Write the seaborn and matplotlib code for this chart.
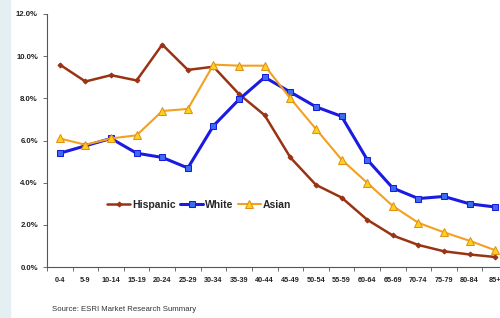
import matplotlib
matplotlib.use("Agg")
import pandas as pd
import seaborn as sns
from matplotlib import pyplot as plt
from matplotlib.ticker import FixedLocator, PercentFormatter

ages = ['0-4', '5-9', '10-14', '15-19', '20-24', '25-29', '30-34', '35-39', '40-44',
        '45-49', '50-54', '55-59', '60-64', '65-69', '70-74', '75-79', '80-84', '85+']
hispanic = [9.6, 8.8, 9.1, 8.85, 10.55, 9.35, 9.5, 8.2, 7.2, 5.2, 3.9, 3.3, 2.25,
            1.5, 1.05, 0.75, 0.6, 0.48]
white = [5.4, 5.75, 6.1, 5.4, 5.2, 4.7, 6.7, 7.95, 9.0, 8.3, 7.6, 7.15, 5.1,
         3.75, 3.25, 3.35, 3.0, 2.85]
asian = [6.1, 5.8, 6.1, 6.25, 7.4, 7.5, 9.6, 9.55, 9.55, 8.0, 6.55, 5.1, 4.0,
         2.9, 2.1, 1.65, 1.25, 0.8]

df = pd.DataFrame({'age': list(range(len(ages))) * 3,
                   'pct': hispanic + white + asian,
                   'group': ['Hispanic'] * 18 + ['White'] * 18 + ['Asian'] * 18})

sns.set_style('white')
plt.rcParams['font.family'] = ['Liberation Sans', 'DejaVu Sans']

fig = plt.figure(figsize=(5, 3.18), dpi=100)
fig.patch.set_facecolor('white')
# light blue strip on the left edge
fig.add_artist(plt.Rectangle((0, 0), 0.02, 1, transform=fig.transFigure,
                             color='#e3eff3', zorder=0))
ax = fig.add_axes([0.094, 0.160, 0.922, 0.796])

styles = {
    'Hispanic': dict(color='#993314', marker='D', markersize=2.5, lw=1.8,
                     markerfacecolor='#993314', markeredgecolor='#993314'),
    'White': dict(color='#1a1ae0', marker='s', markersize=5, lw=2.2,
                  markerfacecolor='#3a6cf0', markeredgecolor='#1a1ae0'),
    'Asian': dict(color='#f3a021', marker='^', markersize=6, lw=1.5,
                  markerfacecolor='#ffd21a', markeredgecolor='#e0901a'),
}
for g in ['Hispanic', 'White', 'Asian']:
    sub = df[df['group'] == g]
    sns.lineplot(data=sub, x='age', y='pct', ax=ax, label=g, sort=False, **styles[g])

ax.set_xlim(-0.5, 17.5)
ax.set_ylim(0, 12)
ax.set_yticks([0, 2, 4, 6, 8, 10, 12])
ax.yaxis.set_major_formatter(PercentFormatter(decimals=1))
ax.set_xticks(range(len(ages)))
ax.set_xticklabels(ages)
ax.xaxis.set_minor_locator(FixedLocator([i - 0.5 for i in range(len(ages) + 1)]))
ax.tick_params(axis='x', which='major', length=0, pad=7, labelsize=5.2, colors='#222222')
ax.tick_params(axis='x', which='minor', length=3, width=0.6, color='#555555', bottom=True)
ax.tick_params(axis='y', length=3, width=0.6, color='#555555', labelsize=5.6,
               colors='#222222', left=True)
for lab in ax.get_xticklabels() + ax.get_yticklabels():
    lab.set_fontweight('bold')
ax.set_xlabel('')
ax.set_ylabel('')
for s in ['top', 'right']:
    ax.spines[s].set_visible(False)
for s in ['left', 'bottom']:
    ax.spines[s].set_color('#555555')
    ax.spines[s].set_linewidth(0.8)

leg = ax.legend(loc='center', bbox_to_anchor=(0.33, 0.245), ncol=3, frameon=False,
                prop={'size': 7.5, 'weight': 'bold'}, handlelength=2.2,
                columnspacing=0.4, handletextpad=0.2)

fig.text(0.104, 0.022, 'Source: ESRI Market Research Summary', fontsize=5.6, color='#333333')

fig.savefig('out.png', dpi=100)
